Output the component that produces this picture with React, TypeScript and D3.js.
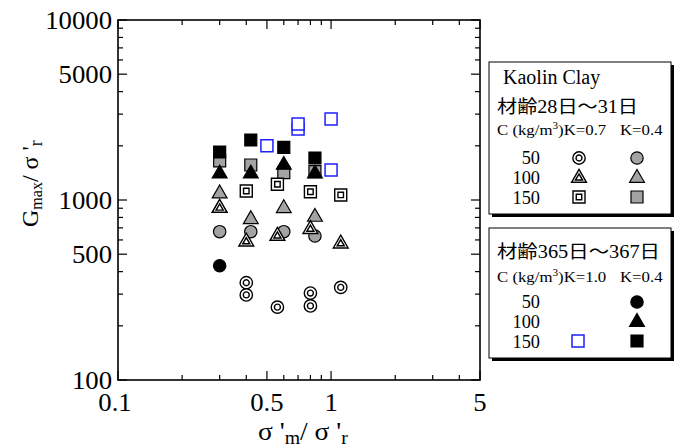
import React from 'react';
import * as d3 from 'd3';

// σ'm/σ'r , Gmax/σ'r  — Kaolin clay, 28–31 days, K=0.7 (double outline markers)
const k07C50 = [[0.4, 347], [0.4, 297], [0.56, 254], [0.8, 304], [0.8, 258], [1.11, 327]];
const k07C100 = [[0.3, 914], [0.4, 594], [0.56, 639], [0.8, 697], [1.11, 579]];
const k07C150 = [[0.4, 1122], [0.56, 1223], [0.8, 1112], [1.11, 1067]];
// 28–31 days, K=0.4 (grey)
const k04C50 = [[0.3, 667], [0.42, 667], [0.6, 667], [0.84, 631]];
const k04C100 = [[0.3, 1100], [0.3, 914], [0.42, 791], [0.6, 911], [0.84, 815]];
const k04C150 = [[0.3, 1648], [0.42, 1565], [0.6, 1418], [0.84, 1436]];
// 365–367 days, K=0.4 (black)
const y04C50 = [[0.3, 431]];
const y04C100 = [[0.3, 1418], [0.42, 1418], [0.6, 1585], [0.84, 1418]];
const y04C150 = [[0.3, 1848], [0.42, 2154], [0.6, 1958], [0.84, 1711]];
// 365–367 days, K=1.0 (blue open square)
const y10C150 = [[0.5, 2000], [0.7, 2480], [0.7, 2643], [1.0, 2818], [1.0, 1468]];

const yLabels = [100, 500, 1000, 5000, 10000];
const xLabels = [0.1, 0.5, 1, 5];
const rowLabels = ['50', '100', '150'];

const W = 677, H = 448;
const serif = "'Liberation Serif', 'Times New Roman', serif";
const cjk = "'Liberation Serif', 'Noto Sans CJK JP', serif";

const x = d3.scaleLog().domain([0.1, 5]).range([118, 480]);
const y = d3.scaleLog().domain([100, 10000]).range([380, 20]);

const GREY = '#a3a3a3';
const BLUE = '#1f1fff';

type Kind = 'circle' | 'triangle' | 'square';
const symType = { circle: d3.symbolCircle, triangle: d3.symbolTriangle, square: d3.symbolSquare };
const outerSize = { circle: 120, triangle: 95, square: 144 };
const innerSize = { circle: 28, triangle: 22, square: 30 };

const Marker = ({ kind, style, cx, cy }: { kind: Kind; style: string; cx: number; cy: number }) => {
  const outer = d3.symbol().type(symType[kind]).size(outerSize[kind])()!;
  const dyT = kind === 'triangle' ? 1 : 0;
  if (style === 'double') {
    const inner = d3.symbol().type(symType[kind]).size(innerSize[kind])()!;
    return (
      <g transform={`translate(${cx},${cy + dyT})`}>
        <path d={outer} fill="white" stroke="black" strokeWidth={1.4} />
        <path d={inner} fill="white" stroke="black" strokeWidth={1.4} />
      </g>
    );
  }
  let fill = GREY, stroke = 'black';
  if (style === 'black') fill = 'black';
  if (style === 'blue') { fill = 'white'; stroke = BLUE; }
  return (
    <path transform={`translate(${cx},${cy + dyT})`} d={outer} fill={fill} stroke={stroke}
      strokeWidth={style === 'blue' ? 1.5 : 1.2} />
  );
};

// text stretched horizontally a bit, like the original output
const T = ({ x, y, size, sx = 1.1, anchor = 'start', family = serif, children }:
  { x: number; y: number; size: number; sx?: number; anchor?: string; family?: string; children: React.ReactNode }) => (
  <text transform={`translate(${x},${y}) scale(${sx},1)`} fontSize={size} fontFamily={family}
    textAnchor={anchor} fill="black">{children}</text>
);

const series: [number[][], Kind, string][] = [
  [k04C50, 'circle', 'grey'],
  [k04C100, 'triangle', 'grey'],
  [k04C150, 'square', 'grey'],
  [k07C50, 'circle', 'double'],
  [k07C100, 'triangle', 'double'],
  [k07C150, 'square', 'double'],
  [y04C50, 'circle', 'black'],
  [y04C150, 'square', 'black'],
  [y04C100, 'triangle', 'black'],
  [y10C150, 'square', 'blue'],
];

function logTicks(lo: number, hi: number) {
  const out: number[] = [];
  for (let p = Math.floor(Math.log10(lo)); p <= Math.ceil(Math.log10(hi)); p++) {
    for (let m = 1; m <= 9; m++) {
      const v = m * Math.pow(10, p);
      if (v >= lo * 0.999 && v <= hi * 1.001) out.push(v);
    }
  }
  return out;
}

const Legend = ({ top, h, children }: { top: number; h: number; children: React.ReactNode }) => (
  <g>
    <rect x={492} y={top + 3} width={182} height={h} fill="black" />
    <rect x={489} y={top} width={182} height={h} fill="white" stroke="black" strokeWidth={1} />
    {children}
  </g>
);

export default function App() {
  const xt = logTicks(0.1, 5);
  const yt = logTicks(100, 10000);
  const [x0, x1] = x.range();
  const [y0, y1] = y.range();
  return (
    <svg width={W} height={H} style={{ position: 'absolute', left: 0, top: 0, background: 'white' }}>
      {/* ticks */}
      <g stroke="black" strokeWidth={1.2}>
        {yt.map(v => {
          const len = yLabels.includes(v) ? 9 : 5;
          return (
            <g key={'y' + v}>
              <line x1={x0} x2={x0 + len} y1={y(v)} y2={y(v)} />
              <line x1={x1} x2={x1 - len} y1={y(v)} y2={y(v)} />
            </g>
          );
        })}
        {xt.map(v => {
          const len = xLabels.includes(v) ? 9 : 5;
          return (
            <g key={'x' + v}>
              <line x1={x(v)} x2={x(v)} y1={y0} y2={y0 - len} />
              <line x1={x(v)} x2={x(v)} y1={y1} y2={y1 + len} />
            </g>
          );
        })}
      </g>
      <rect x={x0} y={y1} width={x1 - x0} height={y0 - y1} fill="none" stroke="black" strokeWidth={1.6} />

      {/* tick labels */}
      {yLabels.map(v => (
        <T key={v} x={112} y={y(v) + 8.5} size={25} sx={1.07} anchor="end">{v}</T>
      ))}
      {xLabels.map(v => (
        <T key={v} x={x(v) - (v === 0.1 ? 3 : 0)} y={411} size={25} sx={1.07} anchor="middle">{v}</T>
      ))}

      {/* axis titles */}
      <text transform="translate(38,227) rotate(-90)" fontFamily={serif} fontSize={24}>
        G<tspan fontSize={16} dy={4}>max</tspan><tspan dy={-4}>/ σ '</tspan>
        <tspan fontSize={18} dy={4}>r</tspan>
      </text>
      <text transform="translate(258,440) scale(1.1,1)" fontFamily={serif} fontSize={25}>
        σ '<tspan fontSize={18} dy={4}>m</tspan><tspan dy={-4}>/ σ '</tspan>
        <tspan fontSize={18} dy={4}>r</tspan>
      </text>

      {/* data */}
      {series.map(([pts, kind, st], i) => (
        <g key={i}>
          {pts.map((d, j) => <Marker key={j} kind={kind} style={st} cx={x(d[0])} cy={y(d[1])} />)}
        </g>
      ))}

      {/* legend 1 */}
      <Legend top={62} h={152}>
        <T x={503} y={84} size={20} sx={1.0}>Kaolin Clay</T>
        <text x={497} y={113} fontSize={18} fontFamily={cjk} textLength={141} lengthAdjust="spacingAndGlyphs">材齢28日～31日</text>
        <T x={497} y={135} size={15} sx={1.12}>
          C (kg/m<tspan fontSize={10} dy={-6}>3</tspan><tspan dy={6}>)K=0.7</tspan>
        </T>
        <T x={620} y={135} size={15} sx={1.12}>K=0.4</T>
        {rowLabels.map((t, i) => (
          <T key={t} x={540} y={164 + i * 20} size={18} sx={1.02} anchor="end">{t}</T>
        ))}
        <Marker kind="circle" style="double" cx={579} cy={158} />
        <Marker kind="triangle" style="double" cx={579} cy={177} />
        <Marker kind="square" style="double" cx={579} cy={197} />
        <Marker kind="circle" style="grey" cx={637} cy={158} />
        <Marker kind="triangle" style="grey" cx={637} cy={177} />
        <Marker kind="square" style="grey" cx={637} cy={197} />
      </Legend>

      {/* legend 2 */}
      <Legend top={228} h={130}>
        <text x={497} y={258} fontSize={18} fontFamily={cjk} textLength={163} lengthAdjust="spacingAndGlyphs">材齢365日～367日</text>
        <T x={497} y={282} size={15} sx={1.12}>
          C (kg/m<tspan fontSize={10} dy={-6}>3</tspan><tspan dy={6}>)K=1.0</tspan>
        </T>
        <T x={620} y={282} size={15} sx={1.12}>K=0.4</T>
        {rowLabels.map((t, i) => (
          <T key={t} x={540} y={308 + i * 20} size={18} sx={1.02} anchor="end">{t}</T>
        ))}
        <Marker kind="circle" style="black" cx={637} cy={302} />
        <Marker kind="triangle" style="black" cx={637} cy={321} />
        <Marker kind="square" style="black" cx={637} cy={341} />
        <Marker kind="square" style="blue" cx={578} cy={341} />
      </Legend>
    </svg>
  );
}
